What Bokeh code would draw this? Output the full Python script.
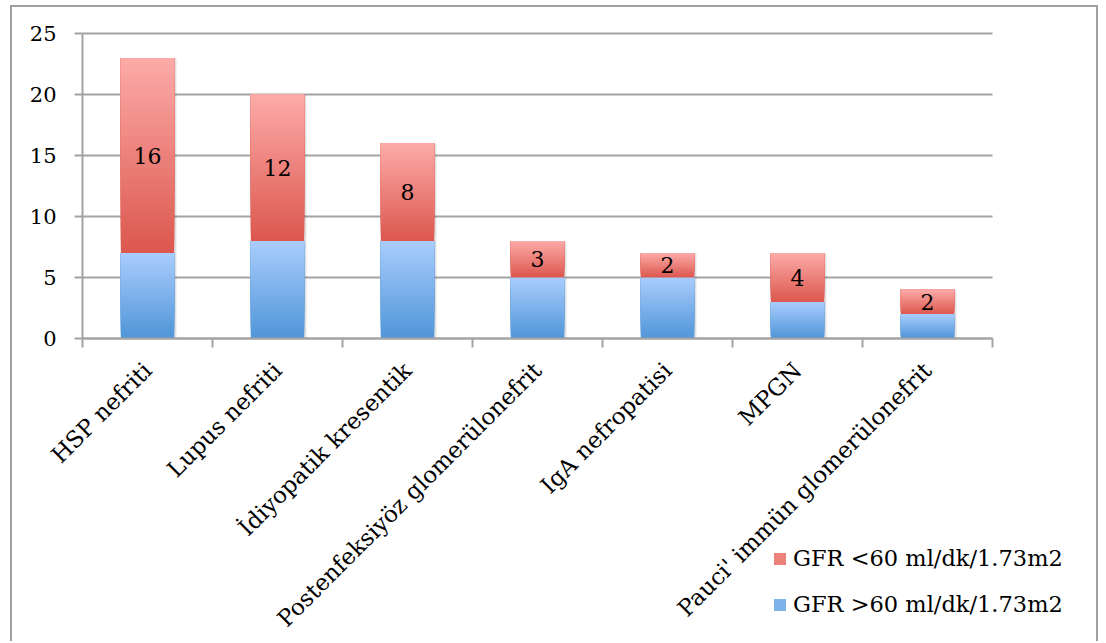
import math
from bokeh.plotting import figure
from bokeh.models import ColumnDataSource, Range1d, FixedTicker, Legend, LegendItem
from bokeh.core.properties import value
from bokeh.embed import file_html
from bokeh.resources import INLINE

# GFR distribution by glomerular disease
categories = ["HSP nefriti", "Lupus nefriti", "İdiyopatik kresentik",
              "Postenfeksiyöz glomerülonefrit", "IgA nefropatisi", "MPGN",
              "Pauci' immün glomerülonefrit"]
gfr_above_60 = [7, 8, 8, 5, 5, 3, 2]     # GFR >60 ml/dk/1.73m2
gfr_below_60 = [16, 12, 8, 3, 2, 4, 2]   # GFR <60 ml/dk/1.73m2
y_ticks = [0, 5, 10, 15, 20, 25]
y_max = 25

FONT = "DejaVu Serif"
GRID = "#a3a3a3"
N_SLICES = 30

BLUE_TOP, BLUE_BOTTOM = (0xA9, 0xCD, 0xFD), (0x50, 0x95, 0xD8)
RED_TOP, RED_BOTTOM = (0xFD, 0xAB, 0xA8), (0xDB, 0x57, 0x4E)

# canvas layout (pixels): the frame fills the whole bordered box, the value
# axes are pinned at x = 0 and y = 0 inside it
W, H = 1088, 636
PX_X, PX_Y = 130.0, 12.2          # pixels per category / per unit
ORIGIN_X, ORIGIN_Y = 70, 305      # plot origin, from frame left / frame bottom


def mix(c_top, c_bottom, t):
    r, g, b = (round(c_bottom[i] + (c_top[i] - c_bottom[i]) * t) for i in range(3))
    return f"#{r:02x}{g:02x}{b:02x}"


def gradient_slices(xs, bottoms, tops, c_top, c_bottom):
    """Shade each bar segment from dark (bottom) to light (top).

    Every slice runs up to the segment top and is painted over by the next
    one, so the visible bands join without seams.
    """
    data = dict(x=[], bottom=[], top=[], color=[])
    for x, b, t in zip(xs, bottoms, tops):
        h = t - b
        for k in range(N_SLICES):
            data["x"].append(x)
            data["bottom"].append(b + h * k / N_SLICES)
            data["top"].append(t)
            data["color"].append(mix(c_top, c_bottom, (k + 0.5) / N_SLICES))
    return ColumnDataSource(data)


n = len(categories)
xs = [i + 0.5 for i in range(n)]
totals = [a + b for a, b in zip(gfr_above_60, gfr_below_60)]
BAR_W = 0.41

p = figure(width=W, height=H,
           x_range=Range1d(-ORIGIN_X / PX_X, (W - ORIGIN_X) / PX_X),
           y_range=Range1d(-ORIGIN_Y / PX_Y, (H - ORIGIN_Y) / PX_Y),
           output_backend="svg", toolbar_location=None,
           min_border=0, margin=(5, 0, 0, 10),
           styles={"border-left": "2px solid #a0a0a0", "border-top": "2px solid #a0a0a0",
                   "border-right": "2px solid #a0a0a0"})
p.outline_line_color = None
p.background_fill_color = "white"
p.border_fill_color = "white"

# horizontal grid lines across the category span only
p.xgrid.visible = False
p.ygrid.visible = False
p.segment(x0=0, x1=n, y0=y_ticks, y1=y_ticks, line_color=GRID, line_width=2)

# soft drop shadow behind the bars
for off, alpha in [(0.018, 0.05), (0.010, 0.07)]:
    p.vbar(x=[x + off for x in xs], top=[t - 0.05 for t in totals], bottom=0,
           width=BAR_W + 0.01, fill_color="black", fill_alpha=alpha, line_color=None)

blue_src = gradient_slices(xs, [0] * n, gfr_above_60, BLUE_TOP, BLUE_BOTTOM)
red_src = gradient_slices(xs, gfr_above_60, totals, RED_TOP, RED_BOTTOM)
blue_r = p.vbar(x="x", bottom="bottom", top="top", width=BAR_W, fill_color="color",
                line_color=None, source=blue_src)
red_r = p.vbar(x="x", bottom="bottom", top="top", width=BAR_W, fill_color="color",
               line_color=None, source=red_src)

# values of the upper segment, centred inside it
p.text(x=xs, y=[a + b / 2 for a, b in zip(gfr_above_60, gfr_below_60)],
       text=[str(v) for v in gfr_below_60], text_font=value(FONT),
       text_font_size="22px", text_align="center", text_baseline="middle",
       text_color="black")

# value axis
p.yaxis.fixed_location = 0
p.yaxis.ticker = FixedTicker(ticks=y_ticks)
p.yaxis.bounds = (0, y_max)
p.yaxis.axis_line_color = GRID
p.yaxis.axis_line_width = 2
p.yaxis.major_tick_line_color = GRID
p.yaxis.major_tick_line_width = 2
p.yaxis.major_tick_out = 8
p.yaxis.major_tick_in = 0
p.yaxis.minor_tick_line_color = None
p.yaxis.major_label_standoff = 18
p.yaxis.major_label_text_font = FONT
p.yaxis.major_label_text_font_size = "21px"
p.yaxis.major_label_text_color = "black"

# category axis: tick marks between bars, names under the bars
p.xaxis.fixed_location = 0
p.xaxis.bounds = (0, n)
p.xaxis.ticker = FixedTicker(ticks=xs, minor_ticks=list(range(n + 1)))
p.xaxis.major_label_overrides = {x: c for x, c in zip(xs, categories)}
p.xaxis.major_label_orientation = math.pi / 4
p.xaxis.axis_line_color = GRID
p.xaxis.axis_line_width = 2
p.xaxis.major_tick_line_color = None
p.xaxis.major_tick_out = 0
p.xaxis.major_tick_in = 0
p.xaxis.minor_tick_line_color = GRID
p.xaxis.minor_tick_line_width = 2
p.xaxis.minor_tick_out = 9
p.xaxis.minor_tick_in = 0
p.xaxis.major_label_standoff = 19
p.xaxis.major_label_text_font = FONT
p.xaxis.major_label_text_font_size = "23px"
p.xaxis.major_label_text_color = "black"

mid = N_SLICES // 2
legend = Legend(items=[
    LegendItem(label="GFR <60 ml/dk/1.73m2", renderers=[red_r], index=mid),
    LegendItem(label="GFR >60 ml/dk/1.73m2", renderers=[blue_r], index=mid),
], location=(760, 26))
legend.label_text_font = FONT
legend.label_text_font_size = "22.5px"
legend.label_text_color = "black"
legend.glyph_width = 15
legend.glyph_height = 15
legend.label_standoff = 6
legend.spacing = 20
legend.padding = 0
legend.margin = 0
legend.border_line_color = None
legend.background_fill_alpha = 0
p.add_layout(legend, "center")

open("out.html", "w").write(file_html(p, INLINE))
